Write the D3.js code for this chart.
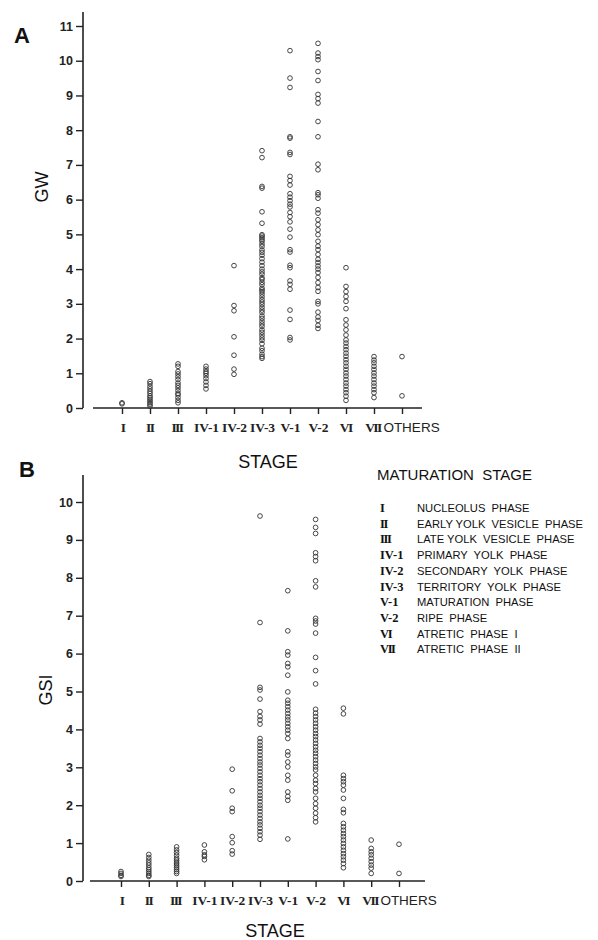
<!DOCTYPE html>
<html><head><meta charset="utf-8">
<script src="https://cdn.jsdelivr.net/npm/d3@7/dist/d3.min.js"></script>
<style>
body{margin:0;background:#fff;}
svg{display:block;}
</style></head>
<body>
<svg id="chart" width="598" height="940"></svg>
<script>
const categories = ["I","II","III","IV-1","IV-2","IV-3","V-1","V-2","VI","VII","OTHERS"];
const tickLabels = ["I","II","III","IV-1","IV-2","IV-3","V-1","V-2","VI","VII","OTHERS"];
const gwTicks = [0,1,2,3,4,5,6,7,8,9,10,11];
const gsiTicks = [0,1,2,3,4,5,6,7,8,9,10];

// GW values per stage (panel A)
const gwByStage = [
  [0.12, 0.15],
  [0.76, 0.7, 0.62, 0.55, 0.48, 0.42, 0.35, 0.3, 0.25, 0.2, 0.15, 0.1, 0.05],
  [1.27, 1.2, 1.05, 0.98, 0.9, 0.82, 0.72, 0.65, 0.58, 0.5, 0.42, 0.38, 0.3, 0.22, 0.15],
  [1.2, 1.12, 1.05, 1.0, 0.93, 0.85, 0.75, 0.65, 0.55],
  [4.1, 2.95, 2.8, 2.05, 1.52, 1.12, 0.97],
  [7.41, 7.21, 6.38, 6.33, 5.65, 5.32, 4.99, 4.95, 4.9, 4.85, 4.8, 4.72, 4.65, 4.55, 4.48, 4.4, 4.3, 4.2, 4.1, 4.0, 3.92, 3.85, 3.75, 3.7, 3.62, 3.55, 3.45, 3.4, 3.35, 3.28, 3.2, 3.12, 3.05, 2.98, 2.9, 2.82, 2.75, 2.65, 2.58, 2.5, 2.42, 2.35, 2.25, 2.18, 2.1, 2.02, 1.95, 1.85, 1.72, 1.65, 1.55, 1.48, 1.43],
  [10.29, 9.5, 9.23, 7.81, 7.77, 7.36, 7.3, 6.67, 6.55, 6.42, 6.17, 6.07, 5.97, 5.87, 5.79, 5.63, 5.51, 5.36, 5.15, 4.92, 4.56, 4.49, 4.11, 4.04, 3.66, 3.56, 3.42, 2.82, 2.55, 2.03, 1.96],
  [10.5, 10.22, 10.12, 10.03, 9.69, 9.43, 9.03, 8.91, 8.78, 8.25, 7.81, 7.02, 6.86, 6.2, 6.14, 6.04, 5.71, 5.61, 5.42, 5.28, 5.13, 4.99, 4.8, 4.66, 4.56, 4.42, 4.28, 4.19, 4.09, 4.0, 3.9, 3.76, 3.61, 3.47, 3.36, 3.07, 3.0, 2.76, 2.62, 2.52, 2.38, 2.29],
  [4.04, 3.5, 3.35, 3.21, 3.07, 2.86, 2.54, 2.39, 2.25, 2.1, 1.96, 1.87, 1.77, 1.68, 1.58, 1.49, 1.39, 1.3, 1.2, 1.11, 1.01, 0.92, 0.82, 0.72, 0.63, 0.53, 0.44, 0.34, 0.22],
  [1.48, 1.38, 1.3, 1.2, 1.11, 1.01, 0.92, 0.82, 0.72, 0.63, 0.53, 0.44, 0.3],
  [1.48, 0.35]
];

// GSI values per stage (panel B)
const gsiByStage = [
  [0.25, 0.2, 0.15, 0.12],
  [0.7, 0.62, 0.55, 0.48, 0.42, 0.35, 0.3, 0.25, 0.2, 0.15, 0.12],
  [0.9, 0.82, 0.75, 0.68, 0.6, 0.55, 0.5, 0.45, 0.4, 0.35, 0.3, 0.25, 0.2],
  [0.95, 0.77, 0.69, 0.65, 0.56],
  [2.95, 2.38, 1.92, 1.83, 1.17, 1.01, 0.8, 0.71],
  [9.63, 6.82, 5.11, 5.04, 4.8, 4.47, 4.34, 4.25, 4.14, 3.76, 3.67, 3.58, 3.5, 3.41, 3.32, 3.23, 3.14, 3.06, 2.97, 2.88, 2.79, 2.7, 2.62, 2.53, 2.44, 2.35, 2.26, 2.18, 2.09, 2.0, 1.92, 1.83, 1.74, 1.65, 1.56, 1.48, 1.39, 1.3, 1.21, 1.1],
  [7.66, 6.6, 6.05, 5.96, 5.74, 5.65, 5.43, 4.99, 4.77, 4.69, 4.6, 4.51, 4.42, 4.33, 4.25, 4.16, 4.07, 3.98, 3.89, 3.76, 3.41, 3.32, 3.14, 3.01, 2.79, 2.66, 2.35, 2.23, 2.13, 1.11],
  [9.54, 9.33, 9.17, 8.66, 8.56, 8.45, 7.92, 7.76, 6.93, 6.86, 6.78, 6.54, 5.9, 5.55, 5.2, 4.53, 4.43, 4.34, 4.25, 4.16, 4.07, 3.98, 3.89, 3.81, 3.72, 3.63, 3.54, 3.45, 3.37, 3.28, 3.19, 3.1, 3.01, 2.93, 2.79, 2.66, 2.57, 2.44, 2.35, 2.18, 2.04, 1.92, 1.79, 1.67, 1.56],
  [4.56, 4.41, 2.79, 2.7, 2.62, 2.53, 2.4, 2.18, 1.89, 1.8, 1.52, 1.43, 1.34, 1.25, 1.17, 1.08, 0.99, 0.9, 0.81, 0.72, 0.64, 0.55, 0.46, 0.35],
  [1.08, 0.86, 0.77, 0.69, 0.6, 0.51, 0.42, 0.34, 0.2],
  [0.97, 0.2]
];

const legendCodes = ["I","II","III","IV-1","IV-2","IV-3","V-1","V-2","VI","VII"];
const legendNames = ["NUCLEOLUS  PHASE","EARLY YOLK  VESICLE  PHASE","LATE YOLK  VESICLE  PHASE","PRIMARY  YOLK  PHASE","SECONDARY  YOLK  PHASE","TERRITORY  YOLK  PHASE","MATURATION  PHASE","RIPE  PHASE","ATRETIC  PHASE  I","ATRETIC  PHASE  II"];

const svg = d3.select("#chart");
const ink = "#222";
const sans = "'Liberation Sans', Arial, Helvetica, sans-serif";
const serif = "'Liberation Serif', 'Times New Roman', serif";
const romanOnly = s => /^[IVX]+$/.test(s);

function panel(cfg) {
  const g = svg.append("g");
  const x = d3.scalePoint().domain(categories).range([cfg.x0, cfg.x1]);
  const y = d3.scaleLinear().domain([0, cfg.yMax]).range([cfg.yBase, cfg.yTopVal]);

  // y axis
  const yAxis = d3.axisLeft(y).tickValues(cfg.ticks).tickSize(7).tickPadding(3).tickSizeOuter(0);
  const ya = g.append("g").attr("transform", `translate(${cfg.axisX},0)`).call(yAxis);
  ya.select(".domain").remove();
  ya.selectAll(".tick line").attr("stroke", ink).attr("stroke-width", 1.4);
  ya.selectAll(".tick text").attr("fill", ink).attr("font-family", sans)
    .attr("font-size", 12.5).attr("font-weight", "bold");
  g.append("line").attr("x1", cfg.axisX).attr("x2", cfg.axisX)
    .attr("y1", cfg.axisTop).attr("y2", cfg.yBase)
    .attr("stroke", ink).attr("stroke-width", 1.6);

  // x axis
  const xAxis = d3.axisBottom(x).tickSize(6).tickPadding(8).tickSizeOuter(0)
    .tickFormat((d, i) => tickLabels[i]);
  const xa = g.append("g").attr("transform", `translate(0,${cfg.yBase})`).call(xAxis);
  xa.select(".domain").remove();
  xa.selectAll(".tick line").attr("stroke", ink).attr("stroke-width", 1.4);
  xa.selectAll(".tick text").attr("fill", ink)
    .attr("font-family", d => d === "OTHERS" ? sans : serif)
    .attr("font-size", d => d === "OTHERS" ? 13.5 : 13.5)
    .attr("font-weight", d => d === "OTHERS" ? "normal" : "bold")
    .attr("letter-spacing", d => romanOnly(d) ? -1.6 : 0)
    .attr("dx", d => d === "OTHERS" ? 9 : (romanOnly(d) ? -0.8 * (d.length - 1) : 0));
  g.append("line").attr("x1", cfg.xLineStart).attr("x2", cfg.xLineEnd)
    .attr("y1", cfg.yBase).attr("y2", cfg.yBase)
    .attr("stroke", ink).attr("stroke-width", 1.6);

  // points
  const pts = [];
  cfg.data.forEach((vals, i) => vals.forEach(v => pts.push({c: categories[i], v})));
  g.append("g").selectAll("circle").data(pts).join("circle")
    .attr("cx", d => x(d.c)).attr("cy", d => y(d.v)).attr("r", 2.35)
    .attr("fill", "none").attr("stroke", "#333").attr("stroke-width", 0.9);

  // labels
  g.append("text").attr("x", cfg.letterX).attr("y", cfg.letterY).text(cfg.letter)
    .attr("font-family", sans).attr("font-size", 22).attr("font-weight", "bold").attr("fill", "#111");
  g.append("text").attr("transform", `translate(${cfg.yLabelX},${cfg.yLabelY}) rotate(-90)`)
    .attr("text-anchor", "middle").text(cfg.yLabel)
    .attr("font-family", sans).attr("font-size", 18).attr("fill", "#111");
  g.append("text").attr("x", cfg.stageX).attr("y", cfg.stageY).attr("text-anchor", "middle")
    .text("STAGE").attr("font-family", sans).attr("font-size", 18).attr("fill", "#111");
}

panel({
  data: gwByStage, ticks: gwTicks, yMax: 11,
  x0: 122, x1: 402, yBase: 408, yTopVal: 26, axisX: 83, axisTop: 12,
  xLineStart: 93, xLineEnd: 422,
  letter: "A", letterX: 14, letterY: 43,
  yLabel: "GW", yLabelX: 48, yLabelY: 187,
  stageX: 268, stageY: 468
});

panel({
  data: gsiByStage, ticks: gsiTicks, yMax: 10,
  x0: 121, x1: 399, yBase: 881, yTopVal: 502, axisX: 83, axisTop: 475,
  xLineStart: 90, xLineEnd: 425,
  letter: "B", letterX: 19, letterY: 477,
  yLabel: "GSI", yLabelX: 52, yLabelY: 690,
  stageX: 275, stageY: 937
});

// legend
const lg = svg.append("g");
lg.append("text").attr("x", 377).attr("y", 480).text("MATURATION  STAGE")
  .attr("font-family", sans).attr("font-size", 15).attr("fill", "#111")
  .style("white-space", "pre");
legendCodes.forEach((c, i) => {
  const yy = 512 + i * 15.7;
  lg.append("text").attr("x", 380).attr("y", yy).text(c)
    .attr("font-family", serif).attr("font-size", 12.5).attr("font-weight", "bold").attr("fill", "#111")
    .attr("letter-spacing", romanOnly(c) ? -1.4 : 0);
  lg.append("text").attr("x", 417).attr("y", yy).text(legendNames[i])
    .attr("font-family", sans).attr("font-size", 11.2).attr("fill", "#111")
    .style("white-space", "pre");
});
</script>
</body></html>
